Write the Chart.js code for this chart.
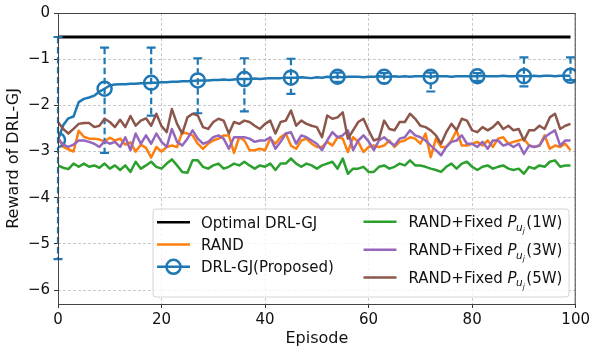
<!DOCTYPE html>
<html>
<head>
<meta charset="utf-8">
<script src="https://cdn.jsdelivr.net/npm/chart.js@4.4.0/dist/chart.umd.min.js"></script>
<style>
  html, body { margin: 0; padding: 0; background: #ffffff; }
  canvas { display: block; }
</style>
</head>
<body>
<canvas id="chart" width="593" height="352"></canvas>
<script>
// Episodes 0..99
const episodes = Array.from({ length: 100 }, (_, i) => i);

// Reward of the optimal DRL-GJ reference
const optimalReward = -0.52;

// DRL-GJ (proposed) average reward per episode
const drlgj = [
  -2.75, -2.43, -2.28, -2.24, -1.93, -1.86, -1.83, -1.79, -1.70, -1.64,
  -1.57, -1.55, -1.54, -1.54, -1.53, -1.53, -1.52, -1.52, -1.51, -1.51,
  -1.50, -1.50, -1.49, -1.49, -1.48, -1.48, -1.47, -1.46, -1.46, -1.46,
  -1.45, -1.45, -1.44, -1.45, -1.44, -1.43, -1.43, -1.43, -1.42, -1.43,
  -1.42, -1.41, -1.41, -1.41, -1.40, -1.40, -1.40, -1.39, -1.40, -1.41,
  -1.39, -1.40, -1.38, -1.39, -1.38, -1.39, -1.38, -1.38, -1.38, -1.39,
  -1.38, -1.38, -1.37, -1.38, -1.38, -1.37, -1.38, -1.37, -1.38, -1.37,
  -1.37, -1.37, -1.38, -1.37, -1.37, -1.37, -1.38, -1.37, -1.37, -1.37,
  -1.37, -1.37, -1.36, -1.37, -1.37, -1.37, -1.36, -1.37, -1.37, -1.36,
  -1.37, -1.37, -1.36, -1.37, -1.36, -1.36, -1.37, -1.36, -1.36, -1.36
];

// Error bars of DRL-GJ, shown every 9 episodes
const errEpisodes = [0, 9, 18, 27, 36, 45, 54, 63, 72, 81, 90, 99];
const errUpper = [-0.52, -0.75, -0.75, -0.98, -0.98, -0.99, -1.29, -1.30, -1.29, -1.30, -0.96, -0.96];
const errLower = [-5.33, -3.03, -2.22, -2.17, -2.13, -1.75, -1.49, -1.52, -1.70, -1.47, -1.59, -1.45];

// RAND baseline
const rand = [
  -2.70, -2.90, -2.95, -3.00, -2.55, -2.68, -2.72, -2.72, -2.74, -2.78,
  -2.70, -2.76, -2.72, -2.85, -2.80, -3.00, -2.85, -2.92, -3.13, -2.90,
  -3.00, -2.90, -2.87, -2.90, -2.58, -2.61, -2.65, -2.83, -2.94, -2.83,
  -2.76, -2.72, -2.65, -2.65, -3.03, -2.69, -2.76, -2.97, -2.97, -2.94,
  -2.97, -2.72, -2.83, -2.69, -2.61, -2.87, -2.94, -2.76, -2.72, -2.83,
  -2.90, -2.90, -2.79, -2.87, -2.69, -2.72, -3.01, -2.69, -2.79, -3.01,
  -2.90, -2.87, -2.90, -2.87, -2.76, -2.90, -2.79, -2.76, -2.69, -2.72,
  -2.83, -2.61, -3.12, -2.72, -2.90, -2.90, -2.76, -2.54, -2.87, -2.87,
  -2.83, -2.79, -2.87, -2.76, -2.90, -2.72, -2.69, -2.83, -2.79, -2.76,
  -2.72, -2.87, -2.90, -2.87, -2.65, -2.94, -2.87, -2.90, -2.83, -2.97
];

// RAND + fixed transmit power 1W
const fixed1W = [
  -3.30, -3.35, -3.38, -3.26, -3.33, -3.26, -3.33, -3.30, -3.35, -3.26,
  -3.37, -3.30, -3.40, -3.30, -3.44, -3.22, -3.37, -3.30, -3.22, -3.33,
  -3.37, -3.26, -3.17, -3.30, -3.44, -3.46, -3.19, -3.19, -3.33, -3.37,
  -3.30, -3.26, -3.37, -3.33, -3.26, -3.30, -3.22, -3.30, -3.37, -3.30,
  -3.33, -3.26, -3.40, -3.26, -3.26, -3.15, -3.26, -3.33, -3.26, -3.30,
  -3.37, -3.30, -3.26, -3.22, -3.37, -3.15, -3.48, -3.37, -3.37, -3.33,
  -3.44, -3.44, -3.33, -3.30, -3.37, -3.33, -3.26, -3.30, -3.19, -3.30,
  -3.30, -3.33, -3.37, -3.40, -3.44, -3.33, -3.26, -3.37, -3.26, -3.22,
  -3.33, -3.40, -3.33, -3.30, -3.37, -3.33, -3.30, -3.37, -3.40, -3.37,
  -3.48, -3.33, -3.37, -3.30, -3.33, -3.22, -3.19, -3.33, -3.30, -3.30
];

// RAND + fixed transmit power 3W
const fixed3W = [
  -2.72, -2.85, -2.90, -2.85, -2.76, -2.76, -2.79, -2.83, -2.90, -2.78,
  -2.83, -2.79, -2.90, -2.69, -2.97, -2.61, -2.83, -2.65, -2.83, -2.61,
  -2.79, -2.90, -2.51, -2.79, -2.87, -2.72, -2.54, -2.72, -2.83, -2.79,
  -2.69, -2.65, -2.72, -2.94, -2.69, -2.69, -2.69, -2.72, -2.79, -2.76,
  -2.76, -2.69, -2.94, -2.79, -2.61, -2.58, -2.83, -2.65, -2.69, -2.76,
  -2.83, -2.97, -2.76, -2.58, -2.69, -2.65, -2.54, -2.97, -2.76, -2.65,
  -2.78, -2.97, -2.76, -2.69, -2.79, -2.87, -2.72, -2.69, -2.54, -2.65,
  -2.69, -2.76, -2.87, -2.97, -3.08, -2.90, -2.79, -2.76, -2.65, -2.83,
  -2.83, -2.90, -2.79, -2.94, -2.76, -2.76, -2.87, -2.83, -2.90, -2.83,
  -3.05, -2.87, -2.90, -2.87, -2.69, -2.61, -2.54, -2.87, -2.76, -2.76
];

// RAND + fixed transmit power 5W
const fixed5W = [
  -2.36, -2.51, -2.61, -2.51, -2.40, -2.38, -2.38, -2.47, -2.44, -2.29,
  -2.36, -2.47, -2.31, -2.47, -2.23, -2.44, -2.33, -2.28, -2.44, -2.18,
  -2.45, -2.58, -2.08, -2.40, -2.61, -2.26, -2.18, -2.22, -2.47, -2.51,
  -2.36, -2.29, -2.33, -2.61, -2.36, -2.40, -2.33, -2.36, -2.44, -2.51,
  -2.40, -2.33, -2.61, -2.36, -2.33, -2.11, -2.44, -2.33, -2.40, -2.44,
  -2.47, -2.69, -2.22, -2.29, -2.26, -2.15, -2.72, -2.54, -2.36, -2.29,
  -2.54, -2.76, -2.72, -2.33, -2.51, -2.54, -2.36, -2.36, -2.18, -2.29,
  -2.44, -2.47, -2.54, -2.65, -2.83, -2.58, -2.40, -2.54, -2.29, -2.33,
  -2.54, -2.58, -2.47, -2.54, -2.47, -2.36, -2.51, -2.44, -2.54, -2.51,
  -2.76, -2.54, -2.54, -2.44, -2.51, -2.26, -2.18, -2.51, -2.44, -2.40
];

// Axis ticks
const xTicks = [0, 20, 40, 60, 80, 100];
const yTicks = [0, -1, -2, -3, -4, -5, -6];

const COLORS = {
  optimal: '#000000',
  rand: '#ff7f0e',
  drl: '#1f77b4',
  w1: '#2ca02c',
  w3: '#9467bd',
  w5: '#8c564b'
};

const FONT = '"DejaVu Sans", "Liberation Sans", sans-serif';
const pts = (arr) => arr.map((v, i) => ({ x: episodes[i], y: v }));

// Dashed error bars with solid caps drawn through the library's scales
const errorBarPlugin = {
  id: 'errorBars',
  afterDatasetDraw(chart, args) {
    if (chart.data.datasets[args.index].label !== 'DRL-GJ(Proposed)') return;
    const { ctx, scales: { x, y } } = chart;
    ctx.save();
    ctx.strokeStyle = COLORS.drl;
    ctx.lineWidth = 2.2;
    errEpisodes.forEach((ep, k) => {
      const px = x.getPixelForValue(ep);
      const top = y.getPixelForValue(errUpper[k]);
      const bot = y.getPixelForValue(errLower[k]);
      ctx.setLineDash([6.5, 3.5]);
      ctx.beginPath();
      ctx.moveTo(px, top);
      ctx.lineTo(px, bot);
      ctx.stroke();
      ctx.setLineDash([]);
      ctx.beginPath();
      ctx.moveTo(px - 4.5, top); ctx.lineTo(px + 4.5, top);
      ctx.moveTo(px - 4.5, bot); ctx.lineTo(px + 4.5, bot);
      ctx.stroke();
    });
    ctx.restore();
  }
};

// Axes frame and the two-column legend
const framePlugin = {
  id: 'frameAndLegend',
  afterDraw(chart) {
    const { ctx, chartArea: a } = chart;
    ctx.save();
    ctx.strokeStyle = '#444';
    ctx.lineWidth = 1;
    ctx.strokeRect(a.left + 0.5, a.top + 0.5, a.right - a.left - 1, a.bottom - a.top);

    // legend box
    const bx = 153, by = 209, bw = 416, bh = 88, r = 3;
    ctx.beginPath();
    ctx.moveTo(bx + r, by);
    ctx.arcTo(bx + bw, by, bx + bw, by + bh, r);
    ctx.arcTo(bx + bw, by + bh, bx, by + bh, r);
    ctx.arcTo(bx, by + bh, bx, by, r);
    ctx.arcTo(bx, by, bx + bw, by, r);
    ctx.closePath();
    ctx.fillStyle = 'rgba(255,255,255,0.8)';
    ctx.fill();
    ctx.strokeStyle = '#d4d4d4';
    ctx.stroke();

    const handle = (x0, yc, color, marker) => {
      ctx.strokeStyle = color;
      ctx.lineWidth = 2.5;
      ctx.beginPath();
      ctx.moveTo(x0, yc); ctx.lineTo(x0 + 33, yc);
      ctx.stroke();
      if (marker) {
        ctx.lineWidth = 2.5;
        ctx.beginPath();
        ctx.arc(x0 + 16.5, yc, 7, 0, Math.PI * 2);
        ctx.stroke();
      }
    };

    ctx.fillStyle = '#111';
    ctx.textBaseline = 'alphabetic';
    ctx.textAlign = 'left';

    const col1 = [
      { y: 222.3, color: COLORS.optimal, text: 'Optimal DRL-GJ' },
      { y: 244.5, color: COLORS.rand, text: 'RAND' },
      { y: 266.8, color: COLORS.drl, text: 'DRL-GJ(Proposed)', marker: true }
    ];
    col1.forEach(e => {
      handle(157, e.y, e.color, e.marker);
      ctx.fillStyle = '#111';
      ctx.font = '15px ' + FONT;
      ctx.fillText(e.text, 201, e.y + 5.5);
    });

    const col2 = [
      { y: 221.8, color: COLORS.w1, watt: '1W' },
      { y: 249.7, color: COLORS.w3, watt: '3W' },
      { y: 277.4, color: COLORS.w5, watt: '5W' }
    ];
    col2.forEach(e => {
      handle(363.5, e.y, e.color, false);
      ctx.fillStyle = '#111';
      let x = 408.5;
      const base = e.y + 5.5;
      ctx.font = '15px ' + FONT;
      ctx.fillText('RAND+Fixed ', x, base);
      x += ctx.measureText('RAND+Fixed ').width;
      ctx.font = 'italic 15px ' + FONT;
      ctx.fillText('P', x, base);
      x += ctx.measureText('P').width - 0.5;
      ctx.font = 'italic 10.5px ' + FONT;
      ctx.fillText('u', x, base + 3.5);
      x += ctx.measureText('u').width;
      ctx.font = 'italic 7.5px ' + FONT;
      ctx.fillText('j', x, base + 6);
      x += ctx.measureText('j').width + 1.5;
      ctx.font = '15px ' + FONT;
      ctx.fillText('(' + e.watt + ')', x, base);
    });
    ctx.restore();
  }
};

const minusSign = (v) => (v < 0 ? '\u2212' + Math.abs(v) : String(v));

new Chart(document.getElementById('chart'), {
  type: 'line',
  data: {
    datasets: [
      {
        label: 'Optimal DRL-GJ',
        data: pts(episodes.map(() => optimalReward)),
        borderColor: COLORS.optimal, borderWidth: 3, pointRadius: 0, order: 6
      },
      {
        label: 'RAND',
        data: pts(rand),
        borderColor: COLORS.rand, borderWidth: 2.5, pointRadius: 0, order: 5
      },
      {
        label: 'DRL-GJ(Proposed)',
        data: pts(drlgj),
        borderColor: COLORS.drl, borderWidth: 2.5, order: 4,
        pointRadius: (c) => (errEpisodes.includes(c.dataIndex) ? 7 : 0),
        pointHoverRadius: 0,
        pointBorderWidth: 2.5,
        pointBorderColor: COLORS.drl,
        pointBackgroundColor: 'rgba(0,0,0,0)'
      },
      {
        label: 'RAND+Fixed P_uj(1W)',
        data: pts(fixed1W),
        borderColor: COLORS.w1, borderWidth: 2.5, pointRadius: 0, order: 3
      },
      {
        label: 'RAND+Fixed P_uj(3W)',
        data: pts(fixed3W),
        borderColor: COLORS.w3, borderWidth: 2.5, pointRadius: 0, order: 2
      },
      {
        label: 'RAND+Fixed P_uj(5W)',
        data: pts(fixed5W),
        borderColor: COLORS.w5, borderWidth: 2.5, pointRadius: 0, order: 1
      }
    ]
  },
  options: {
    responsive: false,
    animation: false,
    devicePixelRatio: 1,
    layout: { padding: { top: 10, right: 16, left: 0, bottom: 0 } },
    elements: { line: { tension: 0, borderJoinStyle: 'round', borderCapStyle: 'butt' } },
    plugins: { legend: { display: false }, tooltip: { enabled: false } },
    scales: {
      x: {
        type: 'linear',
        min: 0, max: 100,
        afterBuildTicks: (s) => { s.ticks = xTicks.map(v => ({ value: v })); },
        afterFit: (s) => { s.height = 48; },
        ticks: { font: { family: FONT, size: 15 }, color: '#111', padding: 3, maxRotation: 0 },
        grid: { color: 'rgba(170,170,170,0.8)', lineWidth: 0.8, tickColor: '#333', tickLength: 4, tickWidth: 1, tickBorderDash: [] },
        border: { display: false, dash: [3, 2] },
        title: { display: true, text: 'Episode', font: { family: FONT, size: 16 }, color: '#111', padding: { top: 0, bottom: 4 } }
      },
      y: {
        type: 'linear',
        min: -6.3, max: 0,
        afterBuildTicks: (s) => { s.ticks = yTicks.map(v => ({ value: v })); },
        afterFit: (s) => { s.width = 58; },
        ticks: { font: { family: FONT, size: 15 }, color: '#111', padding: 4, callback: (v) => minusSign(v) },
        grid: { color: 'rgba(170,170,170,0.8)', lineWidth: 0.8, tickColor: '#333', tickLength: 4, tickWidth: 1, tickBorderDash: [] },
        border: { display: false, dash: [3, 2] },
        title: { display: true, text: 'Reward of DRL-GJ', font: { family: FONT, size: 16 }, color: '#111', padding: { top: 4, bottom: 0 } }
      }
    }
  },
  plugins: [errorBarPlugin, framePlugin]
});
</script>
</body>
</html>
